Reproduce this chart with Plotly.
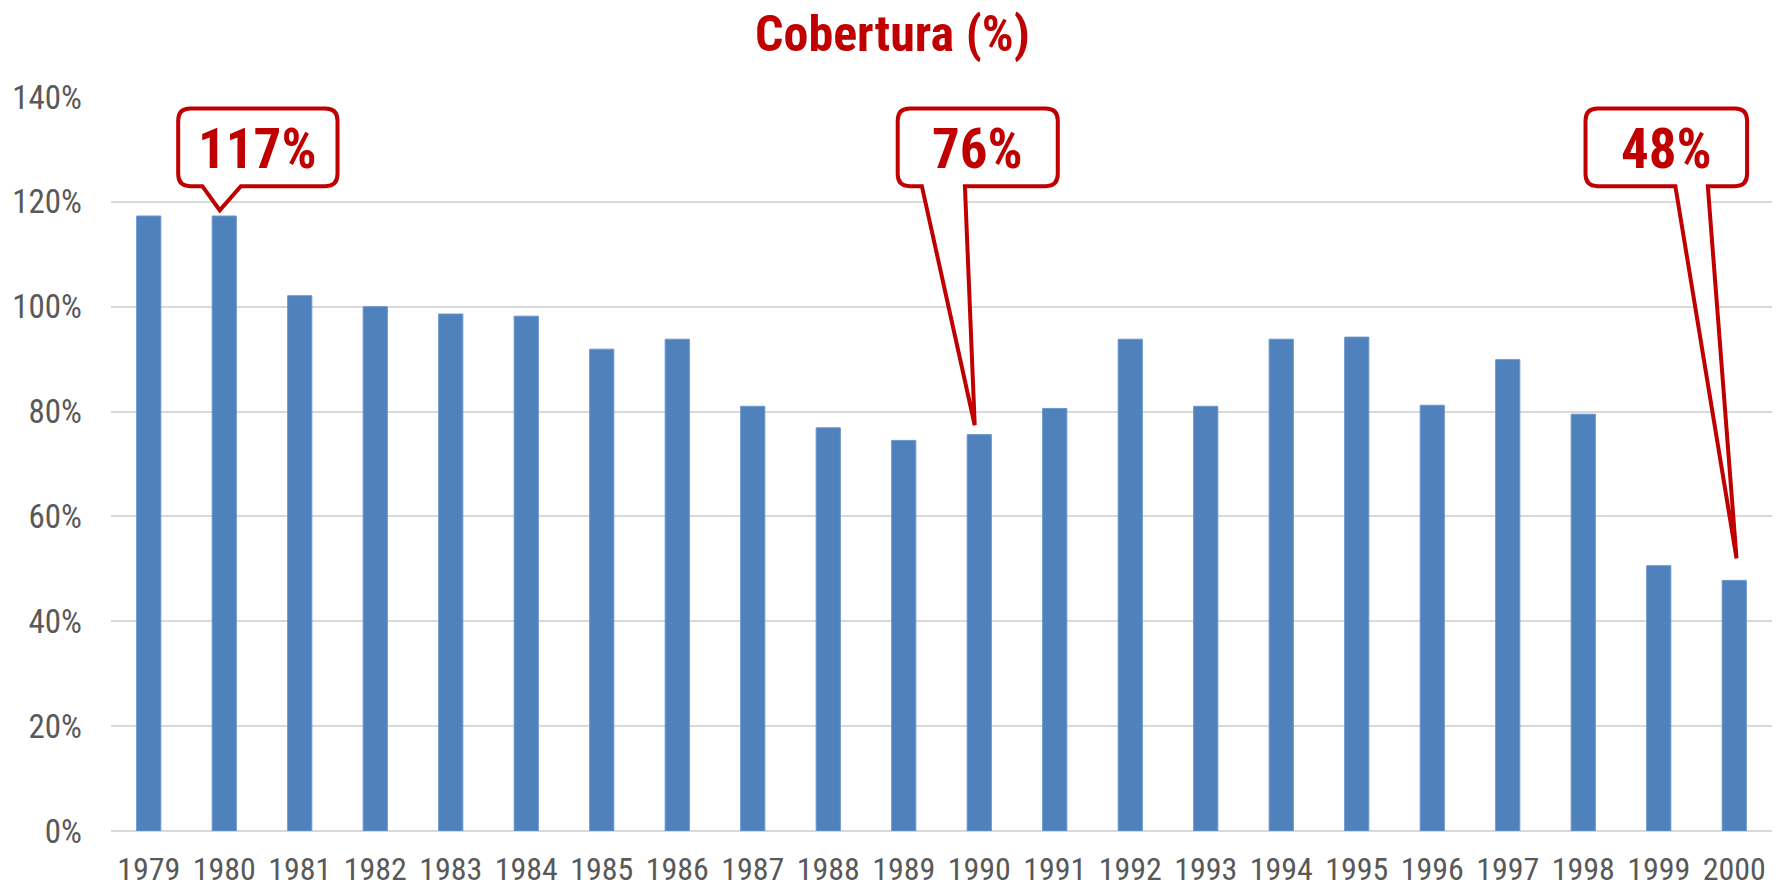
import plotly.graph_objects as go

years = [str(y) for y in range(1979, 2001)]
cobertura = [117.3, 117.3, 102.1, 100.0, 98.6, 98.2, 91.9, 93.8, 81.0, 76.9, 74.5, 75.6,
             80.6, 93.8, 81.0, 93.8, 94.2, 81.2, 89.9, 79.5, 50.6, 47.8]
callout_years = ["1980", "1990", "2000"]
callout_labels = ["117%", "76%", "48%"]
y_ticks = [0, 20, 40, 60, 80, 100, 120, 140]
y_ticktext = [f"{v}%" for v in y_ticks]

RED = "#C00000"
BLUE = "#4F81BD"
FONT = "Liberation Sans Narrow, Arial Narrow, Roboto Condensed, Liberation Sans, sans-serif"

idx = list(range(len(years)))

fig = go.Figure()
fig.add_trace(go.Bar(x=idx, y=cobertura, marker=dict(color=BLUE, line=dict(color="#6A95CC", width=1)),
                     width=0.32, hoverinfo="skip"))

# callout geometry (relative to target bar, in axis units)
geom = {
    "1980": dict(bx0=-0.61, bx1=1.50, base0=-0.29, base1=0.22, tipx=-0.06, tipdy=1.1),
    "1990": dict(bx0=-1.08, bx1=1.04, base0=-0.76, base1=-0.19, tipx=-0.06, tipdy=1.8),
    "2000": dict(bx0=-1.97, bx1=0.17, base0=-0.78, base1=-0.35, tipx=0.03, tipdy=4.2),
}
ybot, ytop = 123.0, 137.8
rx, ry = 0.16, 2.3
for yr, lab in zip(callout_years, callout_labels):
    i = years.index(yr)
    v = cobertura[i]
    g = geom[yr]
    x0, x1 = i + g["bx0"], i + g["bx1"]
    b0, b1 = i + g["base0"], i + g["base1"]
    tx, ty = i + g["tipx"], v + g["tipdy"]
    path = (f"M {x0+rx},{ytop} L {x1-rx},{ytop} Q {x1},{ytop} {x1},{ytop-ry} "
            f"L {x1},{ybot+ry} Q {x1},{ybot} {x1-rx},{ybot} "
            f"L {b1},{ybot} L {tx},{ty} L {b0},{ybot} "
            f"L {x0+rx},{ybot} Q {x0},{ybot} {x0},{ybot+ry} "
            f"L {x0},{ytop-ry} Q {x0},{ytop} {x0+rx},{ytop} Z")
    fig.add_shape(type="path", path=path, xref="x", yref="y",
                  line=dict(color=RED, width=4), fillcolor="white", layer="above")
    fig.add_annotation(x=(x0 + x1) / 2, y=(ybot + ytop) / 2 - 0.4, text=f"<b>{lab}</b>",
                       showarrow=False, xref="x", yref="y",
                       font=dict(family=FONT, size=55, color=RED))

fig.update_layout(
    width=1785, height=888,
    margin=dict(l=111, r=13, t=97, b=57),
    paper_bgcolor="white", plot_bgcolor="white",
    showlegend=False,
    title=dict(text="<b>Cobertura (%)</b>", x=0.5, xanchor="center", y=1 - 33 / 888,
               yanchor="middle", yref="container",
               font=dict(family=FONT, size=50, color=RED)),
    xaxis=dict(range=[-0.5, len(years) - 0.5], tickmode="array", tickvals=idx, ticktext=years,
               showgrid=False, zeroline=False, showline=False, ticks="", automargin=False,
               tickfont=dict(family=FONT, size=32, color="#595959"), ticklabelstandoff=16),
    yaxis=dict(range=[0, 140], tickmode="array", tickvals=y_ticks, ticktext=y_ticktext,
               showgrid=True, gridcolor="#D9D9D9", gridwidth=2, zeroline=True, automargin=False,
               zerolinecolor="#D9D9D9", zerolinewidth=2, showline=False, ticks="",
               tickfont=dict(family=FONT, size=33, color="#595959"), ticklabelstandoff=28),
)

fig.write_html("out.html", config={"displayModeBar": False},
               post_script="document.body.style.margin='0';")
